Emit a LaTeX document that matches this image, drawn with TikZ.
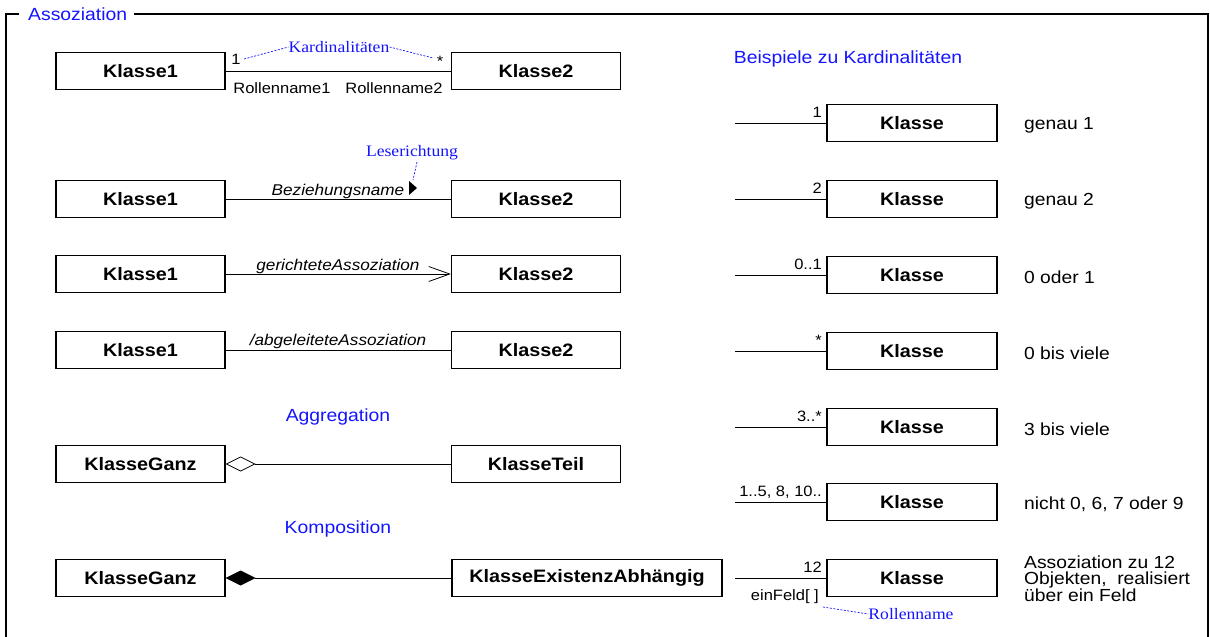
\documentclass[tikz,border=0pt]{standalone}
\usepackage{fontspec}
\setmainfont{Liberation Sans}[FakeStretch=1.1]
\newfontfamily\tms{Liberation Serif}[FakeStretch=1.1]
\usetikzlibrary{arrows.meta}
\definecolor{ublue}{RGB}{20,20,255}
\begin{document}
\begin{tikzpicture}[x=1pt,y=-1pt,
  cls/.style={draw,line width=1.2pt,minimum width=169pt,minimum height=37pt,inner sep=0pt,
    font=\fontsize{18}{20}\selectfont\bfseries},
  assoc/.style={line width=0.8pt},
  small/.style={inner sep=0pt,font=\fontsize{15}{17}\selectfont},
  rolname/.style={inner sep=0pt,font=\fontsize{15.6}{17}\selectfont\itshape},
  desc/.style={inner sep=0pt,anchor=west,align=left,font=\fontsize{17.5}{16}\selectfont},
  head/.style={inner sep=0pt,text=ublue,font=\fontsize{17.6}{20}\selectfont},
  note/.style={inner sep=0pt,text=ublue,font=\fontsize{16}{18}\selectfont\tms},
  notelink/.style={draw=ublue,line width=0.7pt,dash pattern=on 2pt off 1.5pt}]
\useasboundingbox (0,0) rectangle (1210,637);
% frame
\draw[line width=1.4pt] (19,14) -- (6,14) -- (6,640);
\draw[line width=1.4pt] (134,14) -- (1208,14) -- (1208,640);
\node[head,anchor=west] (title) at (28,14) {Assoziation};

% row 1
\node[cls] (a1) at (140.5,71) {Klasse1};
\node[cls] (b1) at (536,71) {Klasse2};
\draw[assoc] (a1.east) -- (b1.west);
\node[small] (m1) at (236,59) {1};
\node[small] (m2) at (440,61) {*};
\node[note] (kard) at (339,47) {Kardinalitäten};
\draw[notelink] (244,59) -- (kard.west);
\draw[notelink] (kard.east) -- (433,58);
\node[small] (r1) at (282,88) {Rollenname1};
\node[small] (r2) at (394,88) {Rollenname2};

% row 2
\node[cls] (a2) at (140.5,199) {Klasse1};
\node[cls] (b2) at (536,199) {Klasse2};
\draw[assoc] (a2.east) -- (b2.west);
\node[rolname] (bez) at (338,191) {Beziehungsname};
\fill (409,181) -- (417,188) -- (409,195) -- cycle;
\node[note] (lese) at (412,153) {Leserichtung};
\draw[notelink] (417,162) -- (413,180);

% row 3
\node[cls] (a3) at (140.5,274) {Klasse1};
\node[cls] (b3) at (536,274) {Klasse2};
\draw[assoc,-{Straight Barb[length=21pt,width=15pt,line width=0.8pt]}] (a3.east) -- (b3.west);
\node[rolname] (ger) at (338,266) {gerichteteAssoziation};

% row 4
\node[cls] (a4) at (140.5,350) {Klasse1};
\node[cls] (b4) at (536,350) {Klasse2};
\draw[assoc] (a4.east) -- (b4.west);
\node[rolname] (abg) at (338,341) {/abgeleiteteAssoziation};

% aggregation
\node[head] (agg) at (338,417) {Aggregation};
\node[cls] (g1) at (140.5,464) {KlasseGanz};
\node[cls] (t1) at (536,464) {KlasseTeil};
\draw[assoc,{Diamond[open,length=30pt,width=15pt,line width=0.8pt]}-] (g1.east) -- (t1.west);

% composition
\node[head] (komp) at (338,529) {Komposition};
\node[cls] (g2) at (140.5,578) {KlasseGanz};
\node[cls,minimum width=270pt] (t2) at (587,578) {KlasseExistenzAbhängig};
\draw[assoc,{Diamond[length=30pt,width=15pt]}-] (g2.east) -- (t2.west);

% right column
\node[head] (bsp) at (848,59) {Beispiele zu Kardinalitäten};
\foreach \i/\y/\m/\d in {1/123/1/genau 1, 2/199/2/genau 2, 3/275/0..1/0 oder 1,
  4/351/*/0 bis viele, 5/427/3..*/3 bis viele, 6/502/{1..5, 8, 10..}/{nicht 0, 6, 7 oder 9}}{
  \node[cls,minimum width=170pt] (k\i) at (912,\y) {Klasse};
  \coordinate (s\i) at (735,\y);
  \draw[assoc] (s\i) -- (k\i.west);
  \node[small,anchor=base east] (m\i) at (822,\y-6) {\m};
  \node[desc] (d\i) at (1024,\y+2) {\d};
}
\node[cls,minimum width=170pt] (k7) at (912,578) {Klasse};
\coordinate (s7) at (735,578);
\draw[assoc] (s7) -- (k7.west);
\node[small,anchor=base east] (m7) at (822,572) {12};
\node[small,anchor=base east] (ef) at (819,600) {einFeld[ ]};
\node[note] (rn) at (911,614) {Rollenname};
\draw[notelink] (823,607) -- (rn.west);
\node[desc] (d7) at (1024,579) {Assoziation zu 12\\Objekten,\ \ realisiert\\über ein Feld};
\end{tikzpicture}
\end{document}
